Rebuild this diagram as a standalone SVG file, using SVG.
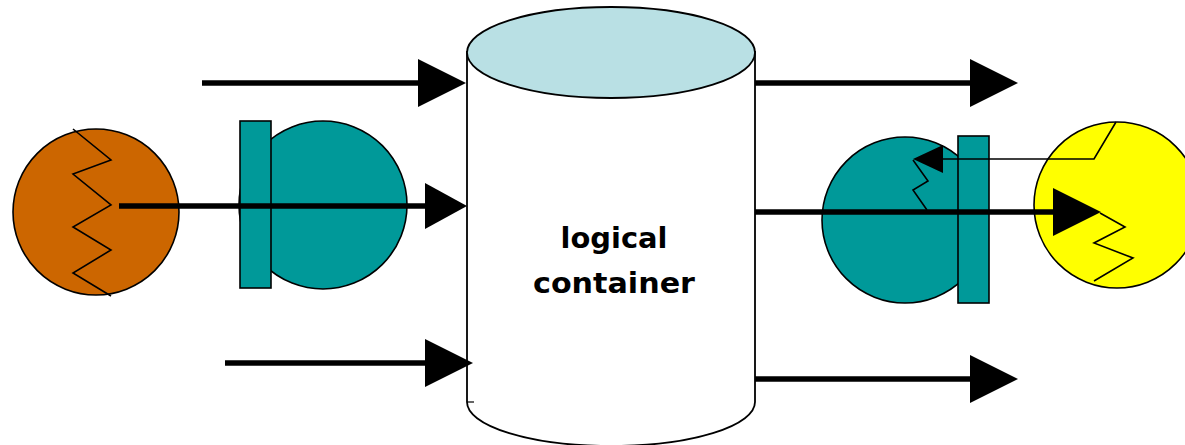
<svg xmlns="http://www.w3.org/2000/svg" width="1185" height="445" viewBox="0 0 1185 445">
  <style>
    .outline { stroke: #000; stroke-width: 1.6; }
    .zig { fill: none; stroke: #000; stroke-width: 1.6; stroke-linejoin: miter; }
    .thick { fill: none; stroke: #000; stroke-width: 5.5; }
    .thin { fill: none; stroke: #000; stroke-width: 1.6; }
    .label { font-family: "DejaVu Sans", "Liberation Sans", sans-serif; font-weight: bold; font-size: 29px; fill: #000; text-anchor: middle; }
  </style>
  <defs>
    <!-- arrowheads: the line ends inside the head, the tip sits ahead of it -->
    <marker id="head" markerUnits="userSpaceOnUse" markerWidth="48" markerHeight="48" refX="10" refY="24" orient="auto" overflow="visible">
      <path d="M0,0 L48,24 L0,48 Z" fill="#000"/>
    </marker>
    <marker id="headShort" markerUnits="userSpaceOnUse" markerWidth="42" markerHeight="46" refX="10" refY="23" orient="auto" overflow="visible">
      <path d="M0,0 L42,23 L0,46 Z" fill="#000"/>
    </marker>
    <marker id="headThin" markerUnits="userSpaceOnUse" markerWidth="30" markerHeight="28" refX="6" refY="14" orient="auto" overflow="visible">
      <path d="M0,0 L30,14 L0,28 Z" fill="#000"/>
    </marker>
  </defs>
  <rect width="1185" height="445" fill="#fff"/>

  <!-- source with spring -->
  <g id="source">
    <circle cx="96" cy="212" r="83" fill="#cc6600" class="outline"/>
    <polyline class="zig" points="73,129 111,160 73,174 111,205 73,227 111,250 73,273 111,296"/>
  </g>

  <!-- left plug -->
  <g id="plug-left">
    <circle cx="323" cy="205" r="84" fill="#009999" class="outline"/>
    <rect x="240" y="121" width="31" height="167" fill="#009999" class="outline"/>
  </g>

  <!-- cylinder -->
  <g id="container">
    <path d="M467,52 L467,402 A144,44 0 0 0 755,402 L755,52 Z" fill="#fff" stroke="#000" stroke-width="1.8"/>
    <line x1="467" y1="402" x2="474" y2="402" stroke="#000" stroke-width="1.2"/>
    <ellipse cx="611" cy="52.5" rx="144" ry="45.5" fill="#b9e0e4" stroke="#000" stroke-width="1.8"/>
    <text class="label" x="614" y="248" textLength="107" lengthAdjust="spacingAndGlyphs">logical</text>
    <text class="label" x="614" y="293" textLength="162" lengthAdjust="spacingAndGlyphs">container</text>
  </g>

  <!-- right plug -->
  <g id="plug-right">
    <circle cx="905" cy="220" r="83" fill="#009999" class="outline"/>
    <rect x="958" y="136" width="31" height="167" fill="#009999" class="outline"/>
    <polyline class="zig" points="913,160 928,181 913,190 927,210"/>
  </g>

  <!-- sink with spring -->
  <g id="sink">
    <circle cx="1117" cy="205" r="83" fill="#ffff00" class="outline"/>
    <polyline class="zig" points="1100,213 1125,227 1094,243 1133,258 1094,281"/>
  </g>

  <!-- connectors -->
  <g id="connectors">
    <line class="thick" x1="202" y1="83" x2="428" y2="83" marker-end="url(#head)"/>
    <line class="thick" x1="119" y1="206" x2="435" y2="206" marker-end="url(#headShort)"/>
    <line class="thick" x1="225" y1="363" x2="435" y2="363" marker-end="url(#head)"/>
    <line class="thick" x1="755" y1="83" x2="980" y2="83" marker-end="url(#head)"/>
    <line class="thick" x1="755" y1="212" x2="1063" y2="212" marker-end="url(#head)"/>
    <line class="thick" x1="755" y1="379" x2="980" y2="379" marker-end="url(#head)"/>
    <polyline class="thin" points="1116,122 1094,159 937,159" marker-end="url(#headThin)"/>
  </g>
</svg>
